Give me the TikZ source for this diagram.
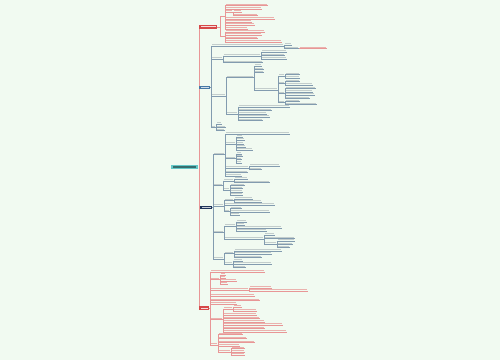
\documentclass[tikz,border=0pt]{standalone}
\definecolor{bgc}{RGB}{241,250,241}
\definecolor{redL}{RGB}{232,150,150}
\definecolor{redT}{RGB}{228,120,120}
\definecolor{redB}{RGB}{214,72,72}
\definecolor{blueL}{RGB}{130,155,175}
\definecolor{grayT}{RGB}{165,175,180}
\definecolor{blueB}{RGB}{70,120,165}
\definecolor{navyB}{RGB}{30,52,90}
\definecolor{rootC}{RGB}{100,200,200}
\tikzset{
  rl/.style={draw=redL,line width=0.35pt},
  bl/.style={draw=blueL,line width=0.35pt},
  rt/.style={fill=redT!55!bgc},
  gt/.style={fill=grayT!60!bgc},
}
\newcommand\mmV[4]{\draw[#4] (#1,#2) -- (#1,#3);}
\newcommand\mmI[5]{\draw[#4] (#1,#3) -- (#2,#3);\fill[#5] (#1+1.2,#3-1.7) rectangle (#2-0.6,#3-0.75);}
\newcommand\ri[3]{\mmI{#1}{#2}{#3}{rl}{rt}}
\newcommand\gi[3]{\mmI{#1}{#2}{#3}{bl}{gt}}
\newcommand\rv[3]{\mmV{#1}{#2}{#3}{rl}}
\newcommand\gv[3]{\mmV{#1}{#2}{#3}{bl}}
\begin{document}
\begin{tikzpicture}[x=1pt,y=-1pt]
\useasboundingbox (0,0) rectangle (500,360);
\fill[bgc] (0,0) rectangle (500,360);
% main trunk
\draw[rl] (199,27) -- (199,308);
% root
\fill[rootC] (171,164.8) rectangle (198,169.2);
\fill[black!45!rootC] (173,166.4) rectangle (196,167.6);
% branch boxes
\fill[redB] (199,25) rectangle (217,28.6);
\fill[white!80!redB] (200.5,26.3) rectangle (215.5,27.3);
\fill[blueB] (199,85.5) rectangle (210,88.7);
\fill[white!75!blueB] (200.5,86.6) rectangle (208.5,87.6);
\fill[navyB] (200,205.5) rectangle (212,208.7);
\fill[white!75!navyB] (201.5,206.6) rectangle (210.5,207.6);
\fill[redB] (199,306.3) rectangle (209,310);
\fill[white!80!redB] (200.5,307.6) rectangle (207.5,308.6);
% ---------- top red branch
\draw[rl] (217,26.8) -- (220,26.8); \rv{220}{16.5}{36.5}
\draw[rl] (220,16.5) -- (225,16.5); \rv{225}{5.3}{28.7}
\ri{225}{268}{5.3} \ri{225}{262}{8.7} \ri{225}{233}{12} \rv{233}{12}{15.3}
\ri{233}{242}{12} \ri{233}{258}{15.3}
\ri{225}{275}{18.7} \ri{225}{252}{22} \ri{225}{255}{25} \ri{225}{248}{28.7}
\draw[rl] (220,36.5) -- (225,36.5); \rv{225}{31.7}{41.7}
\ri{225}{265}{31.7} \ri{225}{262}{35} \ri{225}{258}{38.3} \ri{225}{282}{41.7}
% ---------- blue branch
\draw[bl] (210,87) -- (211,87); \gv{211}{46}{127.3}
\gi{211}{284}{46} \gv{284}{44.7}{48.3} \gi{284}{292}{44.7} \gi{284}{299}{48.3} \ri{299}{327}{48.3}
\gi{211}{223}{59} \gv{223}{55.7}{62.3} \gi{223}{261}{55.7} \gv{261}{52}{58.7}
\gi{261}{287}{52} \gi{261}{285}{55.3} \gi{261}{287}{58.7} \gi{223}{263}{62.3}
\gi{211}{226}{95.7} \gv{226}{77.3}{114}
\gi{226}{254}{77.3} \gv{254}{66}{90}
\gi{254}{262}{66} \gi{254}{264}{69.3} \gi{254}{264}{72.3} \gi{254}{278}{90}
\gv{278}{76}{102.5}
\gi{278}{285}{76} \gv{285}{74.5}{78} \gi{285}{300}{74.5} \gi{285}{300}{78}
\gi{278}{285}{83.3} \gv{285}{81.5}{85} \gi{285}{300}{81.5} \gi{285}{313}{85}
\gi{278}{285}{93.3} \gv{285}{88.5}{98.3} \gi{285}{316}{88.5} \gi{285}{313}{91.7} \gi{285}{315}{95} \gi{285}{310}{98.3}
\gi{278}{285}{102.5} \gv{285}{101.3}{104.3} \gi{285}{300}{101.3} \gi{285}{317}{104.3}
\gi{226}{238}{114} \gv{238}{106.7}{120.3}
\gi{238}{290}{106.7} \gi{238}{272}{110.3} \gi{238}{267}{113.7} \gi{238}{270}{117} \gi{238}{263}{120.3}
\gi{211}{216}{127.3} \gv{216}{124}{130.3} \gi{216}{222}{124} \gi{216}{226}{127.3} \gi{216}{225}{130.3}
% ---------- navy branch
\draw[bl] (212,207) -- (213,207); \gv{213}{154.3}{259}
\gi{213}{225}{154.3} \gv{225}{134}{176}
\gi{225}{290}{134}
\gi{225}{236}{143.7} \gv{236}{136.7}{150}
\gi{236}{243}{136.7} \gi{236}{245}{140} \gi{236}{244}{143.7} \gi{236}{246}{147} \gi{236}{253}{150}
\gi{225}{236}{158.3} \gv{236}{153.7}{162.7}
\gi{236}{242}{153.7} \gi{236}{243}{156.3} \gi{236}{242}{159.3} \gi{236}{242}{162.7}
\gi{225}{249}{168} \gv{249}{166}{169.3} \gi{249}{280}{166} \gi{249}{262}{169.3}
\gi{225}{248}{172.5} \gi{225}{242}{176}
\gi{213}{223}{185.5} \gv{223}{180.7}{190}
\gi{223}{234}{180.7} \gv{234}{179}{182.3} \gi{234}{248}{179} \gi{234}{270}{182.3}
\gi{223}{230}{190} \gv{230}{185.3}{194.7}
\gi{230}{245}{185.3} \gi{230}{243}{188.3} \gi{230}{243}{191.7} \gi{230}{243}{194.7}
\gi{213}{224}{205.7} \gv{224}{200.3}{211.5}
\gi{224}{234}{200.3} \gv{234}{198.7}{202} \gi{234}{253}{198.7} \gi{234}{262}{202}
\gi{224}{275}{204.7}
\gi{224}{230}{211.5} \gv{230}{208.3}{215} \gi{230}{242}{208.3} \gi{230}{270}{211.7} \gi{230}{240}{215}
\gi{213}{224}{232.5} \gv{224}{226}{239}
\gi{224}{236}{226} \gv{236}{221.7}{231}
\gi{236}{247}{221.7} \gi{236}{245}{225} \gi{236}{282}{228} \gi{236}{267}{231}
\gi{224}{264}{239} \gv{264}{235}{244} \gi{264}{275}{235} \gi{264}{295}{238.3} \gi{264}{277}{244}
\gv{277}{241}{247.3} \gi{277}{295}{241} \gi{277}{293}{244.3} \gi{277}{290}{247.3}
\gi{213}{224}{259} \gv{224}{253.3}{263.7}
\gi{224}{234}{253.3} \gv{234}{250.7}{257.3} \gi{234}{282}{250.7} \gi{234}{272}{254} \gi{234}{262}{257.3}
\gi{224}{233}{263.7} \gv{233}{260.7}{267.3} \gi{233}{243}{260.7} \gi{233}{272}{263.7} \gi{233}{246}{267.3}
% ---------- bottom red branch
\draw[rl] (209,308) -- (210,308); \rv{210}{271.7}{345}
\ri{210}{265}{271.7}
\ri{210}{220}{279.5} \rv{220}{275}{284}
\ri{220}{226}{275} \ri{220}{226}{278} \ri{220}{237}{281} \ri{220}{228}{284}
\ri{210}{249}{290} \rv{249}{287.7}{291} \ri{249}{272}{287.7} \ri{249}{308}{291}
\ri{210}{255}{296} \ri{210}{260}{300.5} \ri{210}{237}{304}
\ri{210}{223}{319.3} \rv{223}{308.8}{331.7}
\ri{223}{233}{308.8} \rv{233}{306.7}{311} \ri{233}{242}{306.7} \ri{233}{257}{311}
\ri{223}{257}{315} \ri{223}{260}{318.3} \ri{223}{265}{321.7} \ri{223}{283}{325} \ri{223}{265}{328.3} \ri{223}{287}{331.7}
\ri{210}{218}{345} \rv{218}{334.3}{351.7}
\ri{218}{243}{334.3} \ri{218}{247}{338.3} \ri{218}{255}{342.3} \ri{218}{240}{345.7}
\ri{218}{231}{351.7} \rv{231}{348.3}{355}
\ri{231}{245}{348.3} \ri{231}{245}{351.7} \ri{231}{245}{355}
\end{tikzpicture}
\end{document}
